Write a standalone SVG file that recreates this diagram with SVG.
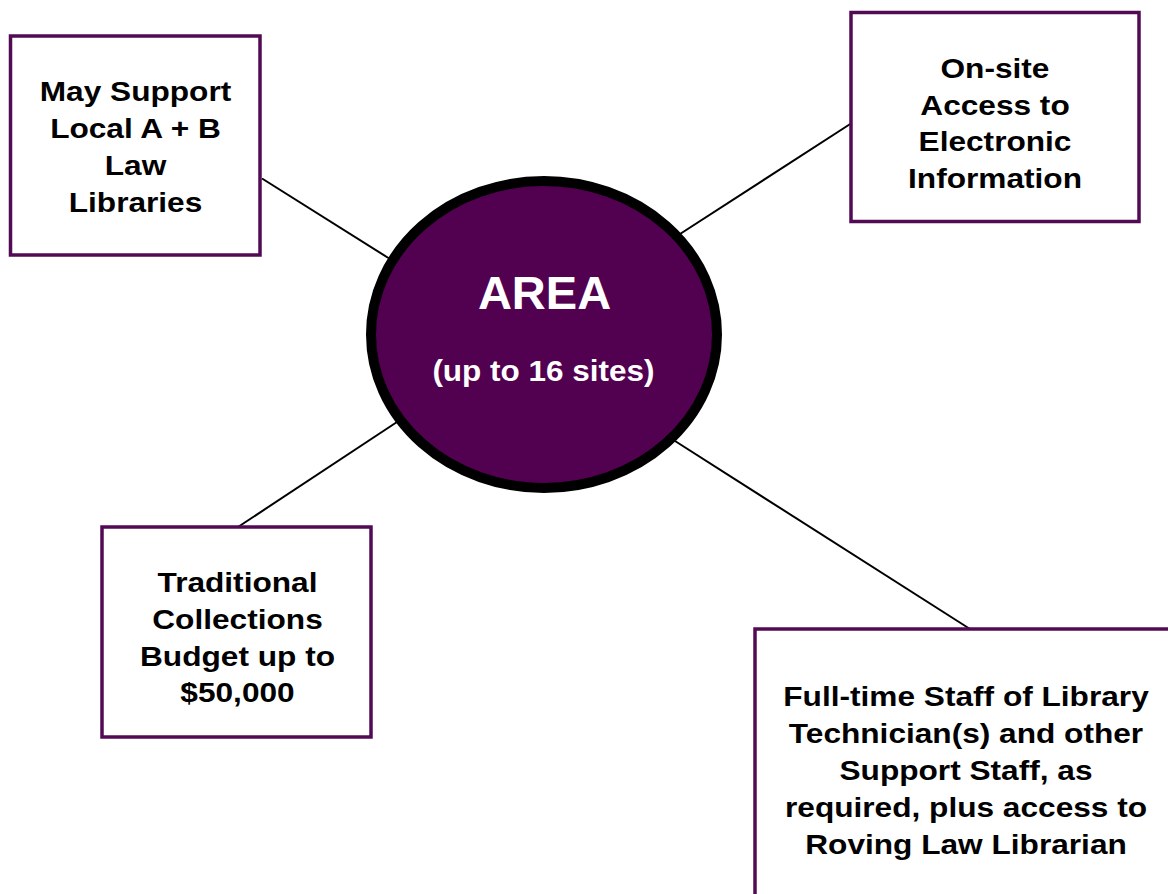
<svg xmlns="http://www.w3.org/2000/svg" width="1168" height="894" viewBox="0 0 1168 894">
<style>
.box{fill:#ffffff;stroke:#520a55;stroke-width:3.5}
.lbl{font-family:"Liberation Sans",Arial,sans-serif;font-weight:bold;font-size:28px;fill:#000000;text-anchor:middle}
.conn{stroke:#000000;stroke-width:2;fill:none}
.ctr{font-family:"Liberation Sans",Arial,sans-serif;font-weight:bold;fill:#ffffff;text-anchor:middle}
</style>
<rect x="0" y="0" width="1168" height="894" fill="#ffffff"/>
<g id="connectors">
<line class="conn" x1="262" y1="178.5" x2="390" y2="259"/>
<line class="conn" x1="680" y1="234" x2="851" y2="123.5"/>
<line class="conn" x1="397" y1="422" x2="238" y2="527"/>
<line class="conn" x1="675" y1="441" x2="970" y2="629"/>
</g>
<g id="node-area">
<ellipse cx="544" cy="334.5" rx="173" ry="153.5" fill="#520050" stroke="#000000" stroke-width="10"/>
<text class="ctr" x="544.5" y="308.5" font-size="47">AREA</text>
<g transform="translate(543.5,0) scale(1.05,1)"><text class="ctr" x="0" y="381.5" font-size="30">(up to 16 sites)</text></g>
</g>
<g id="node-law-libraries">
<rect class="box" x="10.5" y="36" width="249.5" height="219"/>
<g transform="translate(135.5,0) scale(1.13,1)">
<text class="lbl" x="0" y="101.5">May Support</text>
<text class="lbl" x="0" y="138.5">Local A + B</text>
<text class="lbl" x="0" y="175.5">Law</text>
<text class="lbl" x="0" y="212.5">Libraries</text>
</g>
</g>
<g id="node-electronic">
<rect class="box" x="851" y="12.5" width="288" height="209"/>
<g transform="translate(995,0) scale(1.13,1)">
<text class="lbl" x="0" y="78">On-site</text>
<text class="lbl" x="0" y="115">Access to</text>
<text class="lbl" x="0" y="151.5">Electronic</text>
<text class="lbl" x="0" y="188.5">Information</text>
</g>
</g>
<g id="node-collections">
<rect class="box" x="102" y="527" width="269" height="210"/>
<g transform="translate(237.5,0) scale(1.13,1)">
<text class="lbl" x="0" y="592.5">Traditional</text>
<text class="lbl" x="0" y="629.5">Collections</text>
<text class="lbl" x="0" y="666">Budget up to</text>
<text class="lbl" x="0" y="702.5">$50,000</text>
</g>
</g>
<g id="node-staff">
<rect class="box" x="755" y="629" width="430" height="300"/>
<g transform="translate(966,0) scale(1.13,1)">
<text class="lbl" x="0" y="706">Full-time Staff of Library</text>
<text class="lbl" x="0" y="743">Technician(s) and other</text>
<text class="lbl" x="0" y="780">Support Staff, as</text>
<text class="lbl" x="0" y="817.5">required, plus access to</text>
<text class="lbl" x="0" y="854.5">Roving Law Librarian</text>
</g>
</g>
</svg>
